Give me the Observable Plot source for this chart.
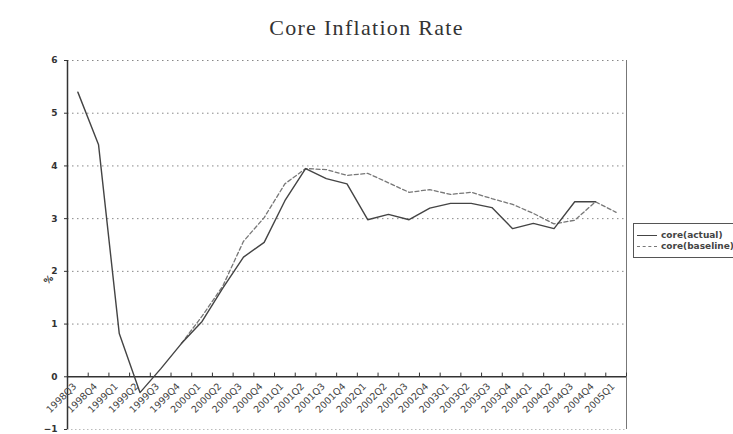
<!DOCTYPE html>
<html>
<head>
<meta charset="utf-8">
<script src="https://cdn.jsdelivr.net/npm/d3@7"></script>
<script src="https://cdn.jsdelivr.net/npm/@observablehq/plot@0.6"></script>
<style>
  html, body { margin: 0; padding: 0; background: #fff; }
  #wrap { position: relative; width: 733px; height: 434px; overflow: hidden; background: #fff; }
  #title { position: absolute; left: 0; top: 15px; width: 733px; text-align: center;
           font-family: "Liberation Serif", "DejaVu Serif", serif; font-size: 22px; color: #333; letter-spacing: 1.3px; }
  #chart { position: absolute; left: 0; top: 50px; }
  #legend { position: absolute; left: 633px; top: 223px; width: 110px; height: 33px;
            border: 1px solid #555; font-family: "DejaVu Sans", sans-serif; font-size: 9px; font-weight: bold; color: #444; }
  .row { position: absolute; left: 3px; height: 10px; line-height: 10px; white-space: nowrap; }
  .sw { display: inline-block; width: 20px; height: 0; vertical-align: middle; margin-right: 4px; }
</style>
</head>
<body>
<div id="wrap">
  <div id="title">Core Inflation Rate</div>
  <div id="chart"></div>
  <div id="legend">
    <div class="row" style="top:6px"><span class="sw" style="border-top:1.5px solid #444"></span>core(actual)</div>
    <div class="row" style="top:17px"><span class="sw" style="border-top:1.5px dashed #777"></span>core(baseline)</div>
  </div>
</div>
<script>
const categories = ["1998Q3","1998Q4","1999Q1","1999Q2","1999Q3","1999Q4","2000Q1","2000Q2","2000Q3","2000Q4","2001Q1","2001Q2","2001Q3","2001Q4","2002Q1","2002Q2","2002Q3","2002Q4","2003Q1","2003Q2","2003Q3","2003Q4","2004Q1","2004Q2","2004Q3","2004Q4","2005Q1"];
const actual = [5.4, 4.4, 0.82, -0.3, 0.15, 0.63, 1.05, 1.68, 2.27, 2.55, 3.34, 3.95, 3.76, 3.66, 2.98, 3.08, 2.98, 3.2, 3.29, 3.29, 3.21, 2.81, 2.91, 2.81, 3.32, 3.32, null];
const baseline = [null, null, null, null, null, 0.63, 1.15, 1.72, 2.57, 3.02, 3.66, 3.95, 3.93, 3.82, 3.86, 3.68, 3.5, 3.55, 3.46, 3.5, 3.38, 3.27, 3.1, 2.9, 2.97, 3.32, 3.12];
const yTicks = [-1, 0, 1, 2, 3, 4, 5, 6];
const gridLines = [1, 2, 3, 4, 5, 6];

const rows = categories.map((c, i) => ({i: i + 0.5, c, actual: actual[i], baseline: baseline[i]}));
const n = categories.length;

const chart = Plot.plot({
  width: 733,
  height: 384,
  marginLeft: 67,
  marginRight: 107,
  marginTop: 10,
  marginBottom: 5,
  style: {background: "#fff", fontFamily: "DejaVu Sans, sans-serif", fontSize: "9px", color: "#333", overflow: "visible"},
  x: {domain: [0, n], axis: null},
  y: {domain: [-1, 6], axis: null},
  marks: [
    Plot.ruleY(gridLines, {stroke: "#888", strokeDasharray: "1.5,3.5", strokeWidth: 1}),
    Plot.ruleY([-1], {stroke: "#bbb", strokeDasharray: "1.5,2.5"}),
    Plot.ruleX([n], {y1: -1, y2: 6, stroke: "#777", strokeWidth: 1}),
    Plot.ruleX([0], {y1: -1, y2: 6, stroke: "#333", strokeWidth: 1.5}),
    Plot.ruleY([0], {stroke: "#333", strokeWidth: 1.5}),
    Plot.ruleX(d3.range(1, n + 1), {y1: 0, y2: 0.07, stroke: "#333"}),
    Plot.axisY({ticks: yTicks, tickSize: 3, tickPadding: 7, tickFormat: d3.format("d"), label: null, fontSize: 9, fontWeight: "bold", color: "#333"}),
    Plot.text(["%"], {frameAnchor: "left", dx: -22, dy: 38, rotate: -45, fontSize: 9, fontWeight: "bold", fill: "#333"}),
    Plot.text(rows, {x: "i", y: 0, text: "c", rotate: -45, textAnchor: "end", dx: -3, dy: 8, fontSize: 9.5, fill: "#444"}),
    Plot.lineY(rows, {x: "i", y: "baseline", stroke: "#777", strokeWidth: 1.3, strokeDasharray: "4,2.5", defined: d => d.baseline != null}),
    Plot.lineY(rows, {x: "i", y: "actual", stroke: "#444", strokeWidth: 1.4, defined: d => d.actual != null})
  ]
});
document.getElementById("chart").appendChild(chart);
</script>
</body>
</html>
